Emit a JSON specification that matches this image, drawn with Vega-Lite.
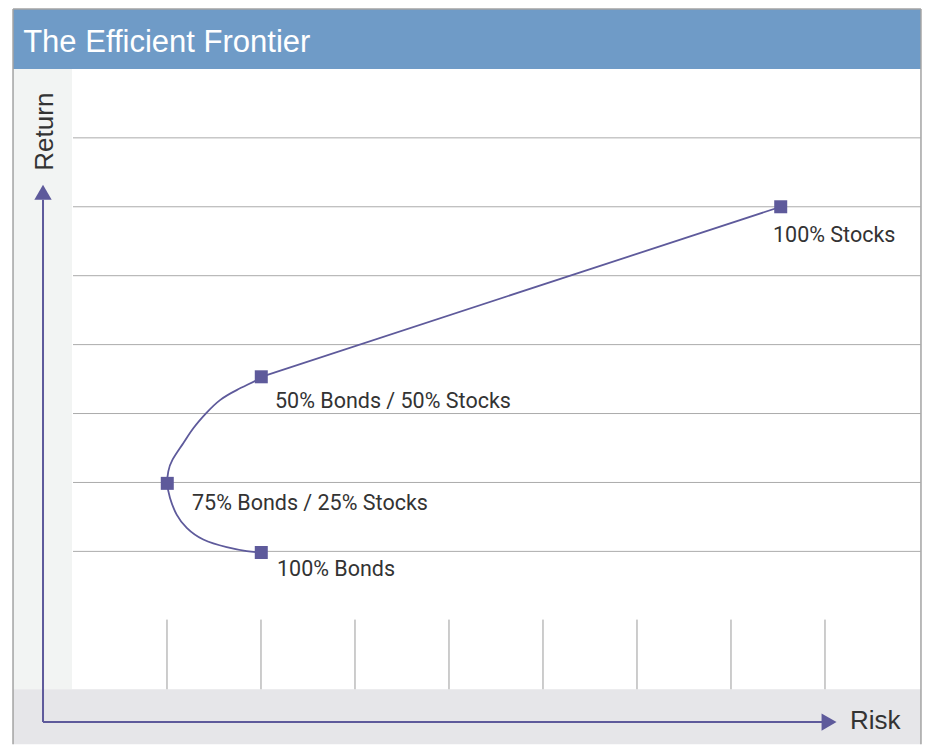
{
  "$schema": "https://vega.github.io/schema/vega-lite/v6.json",
  "width": 926,
  "height": 746,
  "padding": 0,
  "autosize": {"type": "fit", "contains": "padding"},
  "background": "white",
  "config": {"view": {"stroke": null}},
  "datasets": {
    "bg": [
      {"part": "title", "x": -0.638, "x2": 9.021, "y": 9.0, "y2": 9.87},
      {"part": "left", "x": -0.638, "x2": -0.011, "y": 0, "y2": 9.0},
      {"part": "bottom", "x": -0.638, "x2": 9.021, "y": -0.8, "y2": 0}
    ],
    "frame": [
      {"x": -0.638, "x2": -0.638, "y": -0.8, "y2": 9.87},
      {"x": 9.021, "x2": 9.021, "y": -0.8, "y2": 9.87},
      {"x": -0.638, "x2": 9.021, "y": 9.87, "y2": 9.87}
    ],
    "grid": [
      {"x": 0, "x2": 9.021, "y": 2},
      {"x": 0, "x2": 9.021, "y": 3},
      {"x": 0, "x2": 9.021, "y": 4},
      {"x": 0, "x2": 9.021, "y": 5},
      {"x": 0, "x2": 9.021, "y": 6},
      {"x": 0, "x2": 9.021, "y": 7},
      {"x": 0, "x2": 9.021, "y": 8}
    ],
    "ticks": [
      {"x": 1, "y": 0, "y2": 1.01},
      {"x": 2, "y": 0, "y2": 1.01},
      {"x": 3, "y": 0, "y2": 1.01},
      {"x": 4, "y": 0, "y2": 1.01},
      {"x": 5, "y": 0, "y2": 1.01},
      {"x": 6, "y": 0, "y2": 1.01},
      {"x": 7, "y": 0, "y2": 1.01},
      {"x": 8, "y": 0, "y2": 1.01}
    ],
    "axes": [
      {"x": -0.319, "x2": -0.319, "y": -0.477, "y2": 7.1},
      {"x": -0.319, "x2": 7.98, "y": -0.477, "y2": -0.477}
    ],
    "heads": [
      {"dir": "up", "x": -0.319, "y": 7.21},
      {"dir": "right", "x": 8.043, "y": -0.477}
    ],
    "curve": [
      {"o": 1, "x": 2.003, "y": 1.984},
      {"o": 2, "x": 1.848, "y": 2.004},
      {"o": 3, "x": 1.635, "y": 2.062},
      {"o": 4, "x": 1.386, "y": 2.172},
      {"o": 5, "x": 1.210, "y": 2.341},
      {"o": 6, "x": 1.103, "y": 2.533},
      {"o": 7, "x": 1.032, "y": 2.775},
      {"o": 8, "x": 1.003, "y": 2.987},
      {"o": 9, "x": 1.014, "y": 3.160},
      {"o": 10, "x": 1.059, "y": 3.331},
      {"o": 11, "x": 1.173, "y": 3.569},
      {"o": 12, "x": 1.280, "y": 3.786},
      {"o": 13, "x": 1.422, "y": 4.013},
      {"o": 14, "x": 1.564, "y": 4.195},
      {"o": 15, "x": 1.741, "y": 4.340},
      {"o": 16, "x": 1.954, "y": 4.484},
      {"o": 17, "x": 2.003, "y": 4.533}
    ],
    "straight": [
      {"o": 1, "x": 2.003, "y": 4.533},
      {"o": 2, "x": 7.529, "y": 7.0}
    ],
    "portfolios": [
      {"name": "100% Bonds", "x": 2.003, "y": 1.984},
      {"name": "75% Bonds / 25% Stocks", "x": 1.003, "y": 2.987},
      {"name": "50% Bonds / 50% Stocks", "x": 2.003, "y": 4.533},
      {"name": "100% Stocks", "x": 7.529, "y": 7.0}
    ],
    "labels": [
      {"text": "100% Bonds", "x": 2.17, "y": 1.647},
      {"text": "75% Bonds / 25% Stocks", "x": 1.266, "y": 2.605},
      {"text": "50% Bonds / 50% Stocks", "x": 2.149, "y": 4.075},
      {"text": "100% Stocks", "x": 7.447, "y": 6.49}
    ],
    "title": [{"text": "The Efficient Frontier", "x": -0.53, "y": 9.249}],
    "ylab": [{"text": "Return", "x": -0.213, "y": 8.09}],
    "xlab": [{"text": "Risk", "x": 8.266, "y": -0.574}]
  },
  "encoding": {
    "x": {"field": "x", "type": "quantitative", "axis": null, "scale": {"domain": [-0.7766, 9.0745], "nice": false, "zero": false}},
    "y": {"field": "y", "type": "quantitative", "axis": null, "scale": {"domain": [-0.7803, 10.0], "nice": false, "zero": false}}
  },
  "layer": [
    {
      "data": {"name": "bg"},
      "mark": {"type": "rect"},
      "encoding": {
        "x2": {"field": "x2"},
        "y2": {"field": "y2"},
        "color": {"field": "part", "type": "nominal", "legend": null, "scale": {"domain": ["title", "left", "bottom"], "range": ["#6f9bc7", "#f2f4f3", "#e6e6e9"]}}
      }
    },
    {
      "data": {"name": "frame"},
      "mark": {"type": "rule", "color": "#a3a3a3", "strokeWidth": 1.5},
      "encoding": {"x2": {"field": "x2"}, "y2": {"field": "y2"}}
    },
    {
      "data": {"name": "grid"},
      "mark": {"type": "rule", "color": "#ababab", "strokeWidth": 1},
      "encoding": {"x2": {"field": "x2"}}
    },
    {
      "data": {"name": "ticks"},
      "mark": {"type": "rule", "color": "#9b9b9b", "strokeWidth": 1},
      "encoding": {"y2": {"field": "y2"}}
    },
    {
      "data": {"name": "axes"},
      "mark": {"type": "rule", "color": "#5e5a9b", "strokeWidth": 2},
      "encoding": {"x2": {"field": "x2"}, "y2": {"field": "y2"}}
    },
    {
      "data": {"name": "heads"},
      "mark": {"type": "point", "filled": true, "color": "#5e5a9b", "size": 300, "opacity": 1},
      "encoding": {
        "shape": {"field": "dir", "type": "nominal", "legend": null, "scale": {"domain": ["up", "right"], "range": ["triangle-up", "triangle-right"]}}
      }
    },
    {
      "data": {"name": "curve"},
      "mark": {"type": "line", "color": "#5e5a9b", "strokeWidth": 1.8, "interpolate": "natural"},
      "encoding": {"order": {"field": "o", "type": "quantitative"}}
    },
    {
      "data": {"name": "straight"},
      "mark": {"type": "line", "color": "#5e5a9b", "strokeWidth": 1.8},
      "encoding": {"order": {"field": "o", "type": "quantitative"}}
    },
    {
      "data": {"name": "portfolios"},
      "mark": {"type": "point", "shape": "square", "filled": true, "color": "#5e5a9b", "size": 169, "opacity": 1},
      "encoding": {}
    },
    {
      "data": {"name": "labels"},
      "mark": {"type": "text", "align": "left", "baseline": "alphabetic", "font": "Roboto, sans-serif", "fontSize": 21.5, "color": "#333333"},
      "encoding": {"text": {"field": "text"}}
    },
    {
      "data": {"name": "title"},
      "mark": {"type": "text", "align": "left", "baseline": "alphabetic", "font": "Liberation Sans, sans-serif", "fontSize": 31, "color": "#ffffff"},
      "encoding": {"text": {"field": "text"}}
    },
    {
      "data": {"name": "ylab"},
      "mark": {"type": "text", "align": "center", "baseline": "alphabetic", "angle": 270, "font": "Liberation Sans, sans-serif", "fontSize": 26, "color": "#333333"},
      "encoding": {"text": {"field": "text"}}
    },
    {
      "data": {"name": "xlab"},
      "mark": {"type": "text", "align": "left", "baseline": "alphabetic", "font": "Liberation Sans, sans-serif", "fontSize": 26, "color": "#333333"},
      "encoding": {"text": {"field": "text"}}
    }
  ]
}
